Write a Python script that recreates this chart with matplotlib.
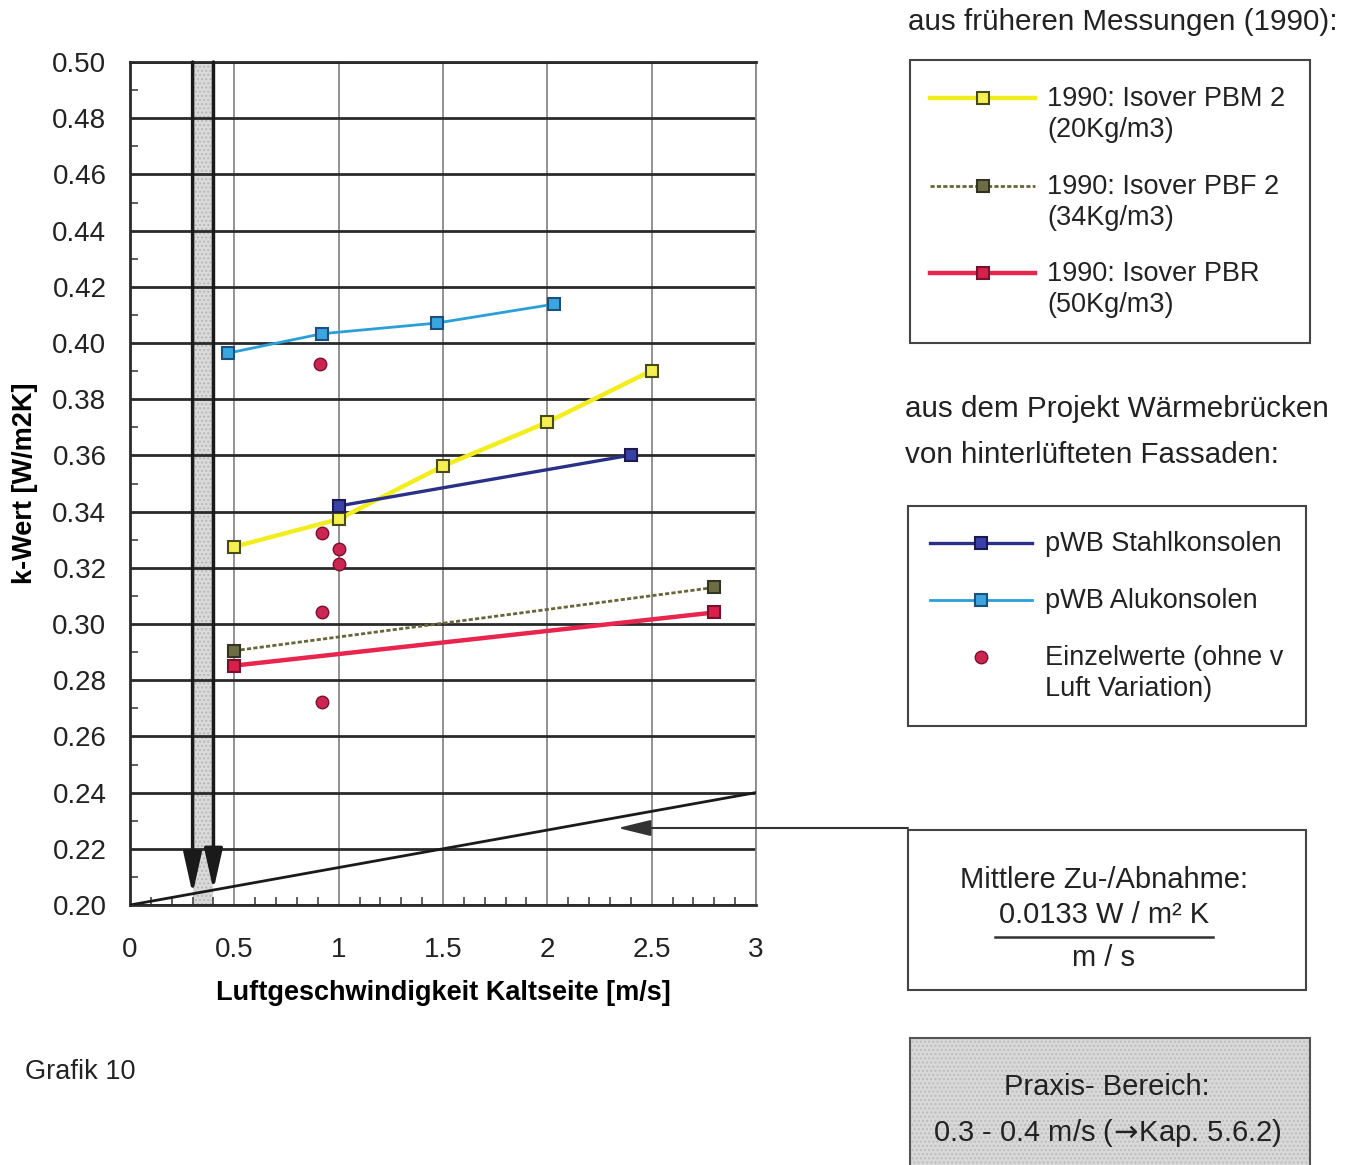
import numpy as np
import matplotlib
matplotlib.use('Agg')
import matplotlib.pyplot as plt
from matplotlib.patches import Rectangle
from matplotlib.lines import Line2D
from matplotlib.ticker import MultipleLocator, FuncFormatter

plt.rcParams['font.family'] = ['Liberation Sans', 'DejaVu Sans']
plt.rcParams['text.color'] = '#222222'

W, H = 1353, 1165

# 1990 measurements (Isover)
pbm2_x = [0.5, 1.0, 1.5, 2.0, 2.5]
pbm2_y = [0.3275, 0.3373, 0.3562, 0.3718, 0.3902]
pbf2_x = [0.5, 2.8]
pbf2_y = [0.2905, 0.3130]
pbr_x = [0.5, 2.8]
pbr_y = [0.2852, 0.3041]

# project "Waermebruecken"
stahl_x = [1.0, 2.4]
stahl_y = [0.3420, 0.3601]
alu_x = [0.47, 0.92, 1.47, 2.03]
alu_y = [0.3964, 0.4033, 0.4071, 0.4138]
einzel_x = [0.91, 0.92, 1.0, 1.0, 0.92, 0.92]
einzel_y = [0.3925, 0.3325, 0.3266, 0.3213, 0.3044, 0.2724]

# mean slope line and practical range
trend_x = [0.0, 3.0]
trend_y = [0.20, 0.24]
praxis = [0.3, 0.4]

labels_1990 = ['1990: Isover PBM 2\n(20Kg/m3)', '1990: Isover PBF 2\n(34Kg/m3)',
               '1990: Isover PBR\n(50Kg/m3)']
labels_pwb = ['pWB Stahlkonsolen', 'pWB Alukonsolen', 'Einzelwerte (ohne v\nLuft Variation)']


def fx(px):
    return px / W


def fy(py):
    return 1 - py / H


fig = plt.figure(figsize=(W / 100, H / 100), dpi=100)
ax = fig.add_axes([fx(130), fy(905), (756 - 130) / W, (905 - 62) / H])

ax.set_xlim(0, 3)
ax.set_ylim(0.2, 0.5)
ax.xaxis.set_major_locator(MultipleLocator(0.5))
ax.xaxis.set_minor_locator(MultipleLocator(0.1))
ax.yaxis.set_major_locator(MultipleLocator(0.02))
ax.yaxis.set_minor_locator(MultipleLocator(0.01))
ax.xaxis.set_major_formatter(FuncFormatter(lambda v, p: '%g' % v))
ax.yaxis.set_major_formatter(FuncFormatter(lambda v, p: '%.2f' % v))

ax.tick_params(which='major', length=0, labelsize=20, labelcolor='#222222')
ax.tick_params(axis='x', which='major', pad=23)
ax.tick_params(axis='y', which='major', pad=17)
ax.tick_params(which='minor', direction='in', length=6, width=1.2, color='#444444')

ax.set_axisbelow(True)
ax.grid(axis='y', which='major', color='#2a2a2a', lw=2)
ax.grid(axis='x', which='major', color='#8a8a8a', lw=1.3)
for s in ['left', 'bottom', 'top']:
    ax.spines[s].set_color('#2a2a2a')
    ax.spines[s].set_linewidth(2)
ax.spines['right'].set_color('#8a8a8a')
ax.spines['right'].set_linewidth(1.3)

ax.set_xlabel('Luftgeschwindigkeit Kaltseite [m/s]', fontsize=19.5, fontweight='bold')
ax.set_ylabel('k-Wert [W/m2K]', fontsize=19.5, fontweight='bold')
ax.xaxis.set_label_coords(0.5, -0.104)
ax.xaxis.label.set_va('center')
ax.yaxis.set_label_coords(-0.168, 0.5)
ax.yaxis.label.set_va('center')

# practical range band with arrows down to the slope line
ax.axvspan(praxis[0], praxis[1], facecolor='#dadada', edgecolor='#b8b8b8',
           hatch='....', lw=0, zorder=0.4)
tips = np.interp(praxis, trend_x, trend_y)
for xp, yt in zip(praxis, tips):
    ax.annotate('', xy=(xp, yt), xytext=(xp, 0.5),
                arrowprops=dict(arrowstyle='-|>,head_length=1.25,head_width=0.28',
                                mutation_scale=20, color='#1a1a1a', lw=2.5,
                                shrinkA=0, shrinkB=0), zorder=3)

ax.plot(trend_x, trend_y, color='#1a1a1a', lw=2, zorder=3)

l_alu, = ax.plot(alu_x, alu_y, color='#2a9fd8', lw=2, marker='s', ms=9,
                 mfc='#3aa6e0', mec='#1c4f80', mew=1.5, zorder=4)
l_pbm2, = ax.plot(pbm2_x, pbm2_y, color='#f2ee1e', lw=3.2, marker='s', ms=9,
                  mfc='#f4f050', mec='#4a4a18', mew=1.5, zorder=4)
l_stahl, = ax.plot(stahl_x, stahl_y, color='#2a2f88', lw=2.4, marker='s', ms=9,
                   mfc='#3a40a8', mec='#1a1a50', mew=1.5, zorder=5)
l_pbf2, = ax.plot(pbf2_x, pbf2_y, color='#66663a', lw=2, ls=(0, (1.5, 0.8)),
                  marker='s', ms=9, mfc='#6d6d45', mec='#333322', mew=1.5, zorder=4)
l_pbr, = ax.plot(pbr_x, pbr_y, color='#e8254e', lw=3.2, marker='s', ms=9,
                 mfc='#d8204a', mec='#7a1030', mew=1.5, zorder=4)
l_einzel, = ax.plot(einzel_x, einzel_y, ls='none', marker='o', ms=9,
                    mfc='#cc2552', mec='#7a1030', mew=1, zorder=5)


def legend_box(x0, y0, x1, y1, handles, labels, rows, hx0, hx1, tx):
    # frame, then for every entry a short line with its marker in the middle
    fig.add_artist(Rectangle((fx(x0), fy(y1)), (x1 - x0) / W, (y1 - y0) / H,
                             transform=fig.transFigure, facecolor='white',
                             edgecolor='#444444', lw=1.5))
    for h, lab, ry in zip(handles, labels, rows):
        seg = Line2D([0, 1], [0, 1])
        seg.update_from(h)
        seg.set_data([fx(hx0), fx(hx1)], [fy(ry), fy(ry)])
        seg.set_marker('None')
        mk = Line2D([0], [0])
        mk.update_from(h)
        mk.set_data([fx((hx0 + hx1) / 2)], [fy(ry)])
        mk.set_linestyle('None')
        for a in (seg, mk):
            a.set_transform(fig.transFigure)
            a.set_clip_on(False)
            a.set_zorder(3)
            fig.add_artist(a)
        fig.text(fx(tx), fy(ry - 12), lab, fontsize=19.5, va='top', linespacing=1.27)


legend_box(910, 60, 1310, 343, [l_pbm2, l_pbf2, l_pbr], labels_1990,
           [98, 186, 273], 930, 1035, 1047)
legend_box(908, 506, 1306, 726, [l_stahl, l_alu, l_einzel], labels_pwb,
           [543, 600, 657], 930, 1032, 1045)

fig.text(fx(908), fy(22), 'aus früheren Messungen (1990):', fontsize=21.3, va='center')
fig.text(fx(905), fy(409), 'aus dem Projekt Wärmebrücken', fontsize=21.3, va='center')
fig.text(fx(905), fy(455), 'von hinterlüfteten Fassaden:', fontsize=21.3, va='center')

# slope box
fig.add_artist(Rectangle((fx(908), fy(990)), 398 / W, 160 / H, transform=fig.transFigure,
                         facecolor='white', edgecolor='#444444', lw=1.5))
fig.text(fx(1104), fy(880), 'Mittlere Zu-/Abnahme:', fontsize=21, ha='center', va='center')
fig.text(fx(1104), fy(915), '0.0133 W / m² K', fontsize=21, ha='center', va='center')
fig.add_artist(Line2D([fx(995), fx(1213)], [fy(937), fy(937)], transform=fig.transFigure,
                      color='#333333', lw=1.8))
fig.text(fx(1104), fy(958), 'm / s', fontsize=21, ha='center', va='center')

ax.annotate('', xy=(2.338, 0.2274), xycoords='data',
            xytext=(fx(908), fy(828)), textcoords='figure fraction',
            arrowprops=dict(arrowstyle='-|>,head_length=1.35,head_width=0.33',
                            mutation_scale=15, color='#333333', lw=1.5,
                            shrinkA=0, shrinkB=0),
            annotation_clip=False, zorder=6)

# practical range box
fig.add_artist(Rectangle((fx(910), fy(1180)), 400 / W, 142 / H, transform=fig.transFigure,
                         facecolor='#d8d8d8', edgecolor='#bdbdbd', hatch='....', lw=0))
fig.add_artist(Rectangle((fx(910), fy(1180)), 400 / W, 142 / H, transform=fig.transFigure,
                         facecolor='none', edgecolor='#555555', lw=1.5))
fig.text(fx(1107), fy(1087), 'Praxis- Bereich:', fontsize=21, ha='center', va='center')
fig.text(fx(1107), fy(1133), r'0.3 - 0.4 m/s ($\!\rightarrow\!$Kap. 5.6.2)', fontsize=21,
         ha='center', va='center')

fig.text(fx(25), fy(1072), 'Grafik 10', fontsize=19.5, va='center')

fig.savefig('out.png', dpi=100, facecolor='white')
